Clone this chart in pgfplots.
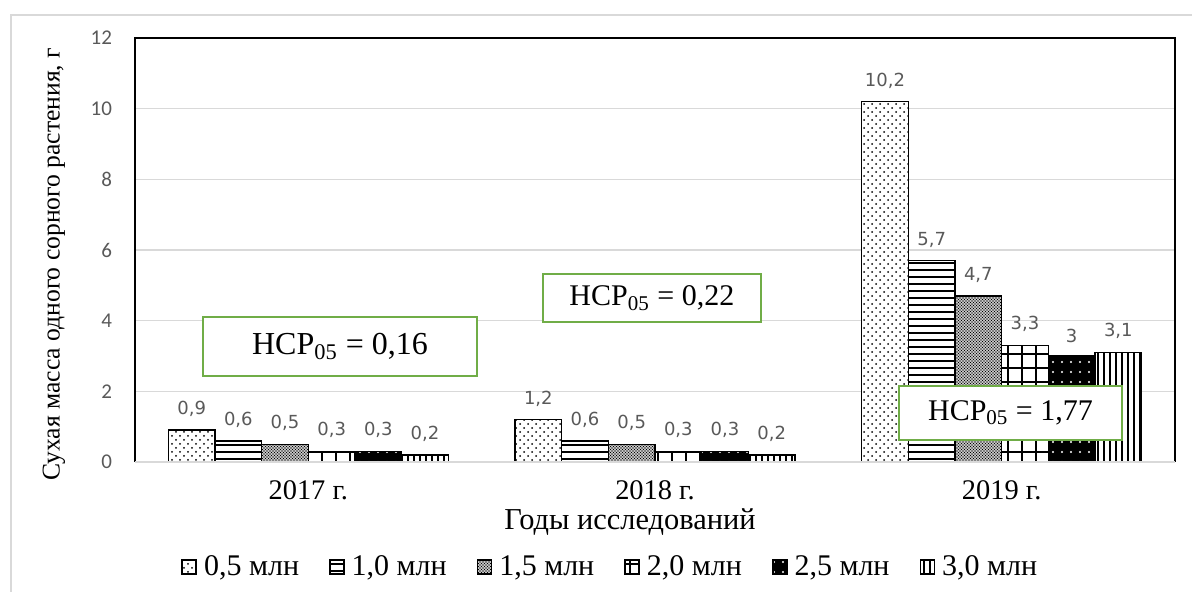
\documentclass[border=0pt]{standalone}
\usepackage{fontspec}
\setmainfont{Liberation Serif}
\newfontfamily\tickfont{Carlito}
\newfontfamily\labfont{DejaVu Sans}
\usepackage{pgfplots}
\pgfplotsset{compat=1.18}
\usetikzlibrary{patterns}
\definecolor{gridgray}{RGB}{217,217,217}
\definecolor{tickgray}{RGB}{89,89,89}
\definecolor{boxgreen}{RGB}{112,173,71}

\pgfdeclarepatternformonly{sdots}{\pgfqpoint{-1pt}{-1pt}}{\pgfqpoint{5pt}{5pt}}{\pgfqpoint{4pt}{4pt}}{%
  \pgfpathcircle{\pgfqpoint{0pt}{0pt}}{0.5pt}%
  \pgfpathcircle{\pgfqpoint{2pt}{2pt}}{0.5pt}%
  \pgfusepath{fill}}
\pgfdeclarepatternformonly{hlines}{\pgfqpoint{-1pt}{-1pt}}{\pgfqpoint{4.5pt}{4.5pt}}{\pgfqpoint{3.5pt}{3.5pt}}{%
  \pgfsetlinewidth{0.7pt}%
  \pgfpathmoveto{\pgfqpoint{-1pt}{0pt}}\pgfpathlineto{\pgfqpoint{4.5pt}{0pt}}\pgfusepath{stroke}}
\pgfdeclarepatternformonly{fdots}{\pgfqpoint{-0.5pt}{-0.5pt}}{\pgfqpoint{2pt}{2pt}}{\pgfqpoint{1.5pt}{1.5pt}}{%
  \pgfpathcircle{\pgfqpoint{0pt}{0pt}}{0.42pt}%
  \pgfpathcircle{\pgfqpoint{0.75pt}{0.75pt}}{0.42pt}%
  \pgfusepath{fill}}
\pgfdeclarepatternformonly{mygrid}{\pgfqpoint{-1pt}{-1pt}}{\pgfqpoint{8pt}{8pt}}{\pgfqpoint{7pt}{7pt}}{%
  \pgfsetlinewidth{0.7pt}%
  \pgfpathmoveto{\pgfqpoint{0pt}{-1pt}}\pgfpathlineto{\pgfqpoint{0pt}{8pt}}%
  \pgfpathmoveto{\pgfqpoint{-1pt}{0pt}}\pgfpathlineto{\pgfqpoint{8pt}{0pt}}%
  \pgfusepath{stroke}}
\pgfdeclarepatternformonly{wdots}{\pgfqpoint{-1pt}{-1pt}}{\pgfqpoint{5.5pt}{6pt}}{\pgfqpoint{4.5pt}{5pt}}{%
  \pgfpathcircle{\pgfqpoint{0pt}{0pt}}{0.6pt}%
  \pgfusepath{fill}}
\pgfdeclarepatternformonly{vlines}{\pgfqpoint{-1pt}{-1pt}}{\pgfqpoint{4pt}{4pt}}{\pgfqpoint{3pt}{3pt}}{%
  \pgfsetlinewidth{0.6pt}%
  \pgfpathmoveto{\pgfqpoint{0pt}{-1pt}}\pgfpathlineto{\pgfqpoint{0pt}{4pt}}\pgfusepath{stroke}}

\begin{document}
\begin{tikzpicture}
\path[use as bounding box] (0,0) rectangle (596pt,296pt);
\draw[gridgray, line width=1.2pt] (5.5pt,-1pt) -- (5.5pt,288.5pt) -- (597pt,288.5pt);
\begin{axis}[
  at={(67.5pt,65pt)}, anchor=south west,
  scale only axis, width=520pt, height=212pt,
  xmin=-0.5, xmax=2.5, ymin=0, ymax=12,
  ytick={0,2,...,12}, xtick={0,1,2},
  xticklabels={2017 г.,2018 г.,2019 г.},
  ymajorgrids, grid style={gridgray, line width=0.8pt},
  major tick length=0pt,
  axis line style={draw=none},
  clip=false,
  ybar=0pt, bar width=23.33pt,
  /pgf/number format/assume math mode=true,
  yticklabel style={font=\tickfont\fontsize{10.5}{12}\selectfont, text=tickgray, xshift=-8pt},
  xticklabel style={font=\fontsize{14.2}{16}\selectfont, yshift=-6pt},
  xlabel={Годы исследований},
  ylabel={Сухая масса одного сорного растения, г},
  x label style={at={(axis description cs:0.476,-0.1415)}, anchor=center, font=\fontsize{15.2}{17}\selectfont},
  y label style={at={(axis description cs:-0.078,0.466)}, anchor=center, font=\fontsize{12.8}{15}\selectfont},
  nodes near coords={\pgfmathprintnumber[use comma,fixed,precision=1]{\pgfplotspointmeta}},
  every node near coord/.append style={font=\labfont\fontsize{9}{10}\selectfont, text=tickgray, yshift=3pt},
  legend columns=-1,
  legend style={at={(axis description cs:0.458,-0.2476)}, anchor=center, draw=none,
    font=\fontsize{15}{17}\selectfont,
    /tikz/every odd column/.append style={column sep=1.5pt},
    /tikz/every even column/.append style={column sep=13pt}},
  mylegend/.style={legend image code/.code={\draw[##1, line width=0.8pt] (0pt,-3.5pt) rectangle (7pt,3.5pt);}},
]
\addplot[draw=black, line width=0.8pt, fill=white, postaction={pattern=sdots}, mylegend]
  coordinates {(0,0.9) (1,1.2) (2,10.2)};
\addplot[draw=black, line width=0.8pt, fill=white, postaction={pattern=hlines}, mylegend]
  coordinates {(0,0.6) (1,0.6) (2,5.7)};
\addplot[draw=black, line width=0.8pt, fill=white, postaction={pattern=fdots}, mylegend]
  coordinates {(0,0.5) (1,0.5) (2,4.7)};
\addplot[draw=black, line width=0.8pt, fill=white, postaction={pattern=mygrid}, mylegend]
  coordinates {(0,0.3) (1,0.3) (2,3.3)};
\addplot[draw=black, line width=0.8pt, fill=black, postaction={pattern=wdots, pattern color=white}, mylegend]
  coordinates {(0,0.3) (1,0.3) (2,3.0)};
\addplot[draw=black, line width=0.8pt, fill=white, postaction={pattern=vlines}, mylegend]
  coordinates {(0,0.2) (1,0.2) (2,3.1)};
\legend{{0,5 млн},{1,0 млн},{1,5 млн},{2,0 млн},{2,5 млн},{3,0 млн}}
\draw[black, line width=1.3pt] (rel axis cs:0,0) -- (rel axis cs:0,1) -- (rel axis cs:1,1) -- (rel axis cs:1,0);
\draw[gridgray, line width=1pt] (rel axis cs:0,0) -- (rel axis cs:1,0);
\node[draw=boxgreen, line width=1pt, fill=white, minimum width=137pt, minimum height=29.5pt, font=\fontsize{16}{18}\selectfont]
  at (axis cs:0.0913,3.27) {НСР\textsubscript{05} = 0,16};
\node[draw=boxgreen, line width=1pt, fill=white, minimum width=109pt, minimum height=24pt, font=\fontsize{15}{17}\selectfont]
  at (axis cs:0.991,4.64) {НСР\textsubscript{05} = 0,22};
\node[draw=boxgreen, line width=1pt, fill=white, minimum width=111.5pt, minimum height=27pt, font=\fontsize{15}{17}\selectfont]
  at (axis cs:2.0255,1.387) {НСР\textsubscript{05} = 1,77};
\end{axis}
\end{tikzpicture}
\end{document}
